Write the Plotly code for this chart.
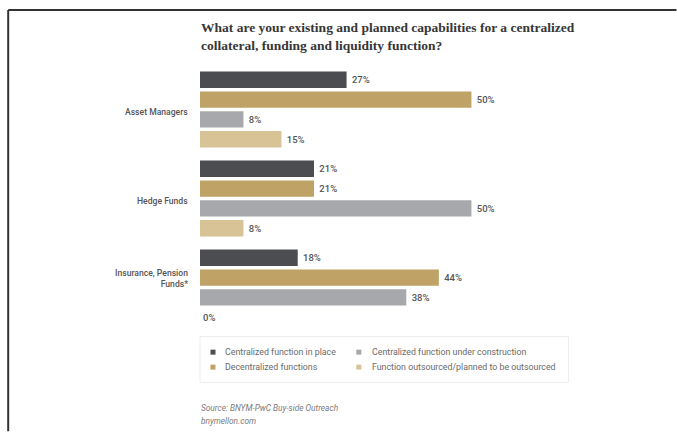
import plotly.graph_objects as go

categories = ["Asset Managers", "Hedge Funds", "Insurance, Pension Funds*"]
series_names = [
    "Centralized function in place",
    "Decentralized functions",
    "Centralized function under construction",
    "Function outsourced/planned to be outsourced",
]
in_place = [27, 21, 18]
decentralized = [50, 21, 44]
under_construction = [8, 50, 38]
outsourced = [15, 8, 0]
values = [in_place, decentralized, under_construction, outsourced]
colors = ["#4c4d50", "#bea266", "#a6a8ab", "#d7c395"]
category_labels = ["Asset Managers", "Hedge Funds", "Insurance, Pension<br>Funds*"]
# legend layout: (row, column) for each series
legend_slots = [(0, 0), (1, 0), (0, 1), (1, 1)]

title_text = ("What are your existing and planned capabilities for a centralized<br>"
              "collateral, funding and liquidity function?")
source_lines = ["Source: BNYM-PwC Buy-side Outreach", "bnymellon.com"]

W, H = 677, 432
ML, MR, MT, MB = 200, 96.6, 65, 99.5
PW, PH = W - ML - MR, H - MT - MB


def px_x(px):
    return (px - ML) / PW


def px_y(py):
    return 1 - (py - MT) / PH


fig = go.Figure()
for name, vals, col in zip(series_names, values, colors):
    fig.add_trace(go.Bar(
        y=categories, x=vals, orientation="h", name=name,
        marker=dict(color=col, line=dict(width=0)),
        text=vals,
        texttemplate=[(" %{x}%" if v > 0 else "%{x}%") for v in vals],
        textposition="outside", cliponaxis=False,
        outsidetextfont=dict(family="Roboto", size=9.5, color="#555555", weight=500),
        showlegend=False, hoverinfo="skip",
    ))

annotations = []
shapes = []

# category labels
for cat, lab in zip(categories, category_labels):
    annotations.append(dict(
        x=px_x(190), xref="paper", y=cat, yref="y", text=lab, showarrow=False,
        xanchor="right", yanchor="middle", align="right",
        yshift=(-2 if "<br>" not in lab else 9),
        font=dict(family="Roboto", size=8.6, color="#555555", weight=500),
    ))

# legend (drawn)
shapes.append(dict(type="rect", xref="paper", yref="paper",
                   x0=px_x(200), x1=px_x(569), y0=px_y(337), y1=px_y(383),
                   line=dict(color="#ececec", width=1), fillcolor="rgba(0,0,0,0)", layer="below"))
col_marker = [213, 359]
col_text = [223, 370]
row_y = [352.7, 367.7]
for name, col, (r, c) in zip(series_names, colors, legend_slots):
    shapes.append(dict(type="rect", xref="paper", yref="paper",
                       x0=px_x(col_marker[c] - 2.5), x1=px_x(col_marker[c] + 2.5),
                       y0=px_y(row_y[r] - 2.5), y1=px_y(row_y[r] + 2.5),
                       line=dict(width=0), fillcolor=col))
    annotations.append(dict(
        x=px_x(col_text[c]), xref="paper", y=px_y(row_y[r]), yref="paper",
        text=name, showarrow=False, xanchor="left", yanchor="middle",
        font=dict(family="Roboto", size=8.8, color="#6a6a6a"),
    ))

# source
for i, line in enumerate(source_lines):
    annotations.append(dict(
        x=px_x(199), xref="paper", y=px_y(409 + 12.7 * i), yref="paper",
        text="<i>" + line + "</i>", showarrow=False, xanchor="left", yanchor="middle",
        font=dict(family="Roboto", size=8.3, color="#7a7a7a"),
    ))

# title
annotations.append(dict(
    x=px_x(199), xref="paper", y=px_y(36.5), yref="paper", text="<b>" + title_text + "</b>",
    showarrow=False, xanchor="left", yanchor="middle", align="left",
    font=dict(family="Liberation Serif", size=13.5, color="#363636"),
))

# frame lines
shapes += [
    dict(type="line", xref="paper", yref="paper", x0=px_x(8), x1=px_x(677),
         y0=px_y(10), y1=px_y(10), line=dict(color="#333333", width=2)),
    dict(type="line", xref="paper", yref="paper", x0=px_x(8), x1=px_x(8),
         y0=px_y(10), y1=px_y(432), line=dict(color="#333333", width=2)),
]

fig.update_layout(
    width=W, height=H,
    margin=dict(l=ML, r=MR, t=MT, b=MB, pad=0),
    paper_bgcolor="white", plot_bgcolor="white",
    barmode="group", bargap=0.11, bargroupgap=0.17,
    xaxis=dict(range=[0, 70], visible=False, fixedrange=True),
    yaxis=dict(categoryorder="array", categoryarray=categories, range=[2.5, -0.5],
               showticklabels=False, showgrid=False, zeroline=False, fixedrange=True),
    annotations=annotations, shapes=shapes,
    showlegend=False,
)

fig.write_html("out.html")
